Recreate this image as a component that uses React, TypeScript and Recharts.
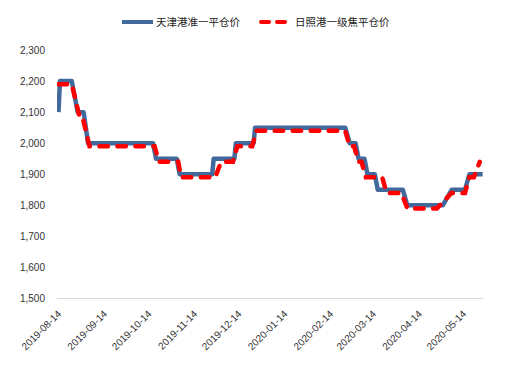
import React from "react";
import { LineChart, Line, XAxis, YAxis, Legend } from "recharts";

const tianjinName = "天津港准一平仓价";
const tianjinDates = [
  "2019-08-13", "2019-08-14", "2019-08-22", "2019-08-26", "2019-08-30", "2019-09-02",
  "2019-10-16", "2019-10-18", "2019-11-01", "2019-11-03", "2019-11-25", "2019-11-26",
  "2019-12-10", "2019-12-11", "2019-12-23", "2019-12-24", "2020-02-23", "2020-02-26",
  "2020-03-01", "2020-03-03", "2020-03-07", "2020-03-09", "2020-03-14", "2020-03-16",
  "2020-04-02", "2020-04-05", "2020-04-29", "2020-05-05", "2020-05-14", "2020-05-17",
  "2020-05-26",
];
const tianjinValues = [
  2100, 2200, 2200, 2100, 2100, 2000,
  2000, 1950, 1950, 1900, 1900, 1950,
  1950, 2000, 2000, 2050, 2050, 2000,
  2000, 1950, 1950, 1900, 1900, 1850,
  1850, 1800, 1800, 1850, 1850, 1900,
  1900,
];

const rizhaoName = "日照港一级焦平仓价";
const rizhaoDates = [
  "2019-08-13", "2019-08-22", "2019-08-27", "2019-08-29", "2019-09-03", "2019-10-17",
  "2019-10-20", "2019-11-02", "2019-11-04", "2019-11-27", "2019-12-01", "2019-12-09",
  "2019-12-12", "2019-12-22", "2019-12-25", "2020-02-23", "2020-02-26", "2020-02-29",
  "2020-03-03", "2020-03-05", "2020-03-08", "2020-03-19", "2020-03-22", "2020-04-01",
  "2020-04-05", "2020-04-25", "2020-05-05", "2020-05-14", "2020-05-17", "2020-05-20",
  "2020-05-24",
];
const rizhaoValues = [
  2190, 2190, 2090, 2090, 1990, 1990,
  1940, 1940, 1890, 1890, 1940, 1940,
  1990, 1990, 2040, 2040, 1990, 1990,
  1940, 1940, 1890, 1890, 1840, 1840,
  1790, 1790, 1840, 1840, 1890, 1890,
  1940,
];

const xTickLabels = [
  "2019-08-14", "2019-09-14", "2019-10-14", "2019-11-14", "2019-12-14",
  "2020-01-14", "2020-02-14", "2020-03-14", "2020-04-14", "2020-05-14",
];
const yTicks = [1500, 1600, 1700, 1800, 1900, 2000, 2100, 2200, 2300];

const BASE = Date.UTC(2019, 7, 14);
const dayIndex = (s: string) => {
  const [y, m, d] = s.split("-").map(Number);
  return Math.round((Date.UTC(y, m - 1, d) - BASE) / 86400000);
};

const tianjinData = tianjinDates.map((d, i) => ({ x: dayIndex(d), v: tianjinValues[i] }));
const rizhaoData = rizhaoDates.map((d, i) => ({ x: dayIndex(d), v: rizhaoValues[i] }));
const xTicks = xTickLabels.map(dayIndex);
const labelByDay: Record<number, string> = {};
xTickLabels.forEach((l) => (labelByDay[dayIndex(l)] = l));

const BLUE = "#41699B";
const RED = "#FF0000";
const FONT = "'Liberation Sans', Arial, sans-serif";

const XTick = (props: any) => {
  const { x, y, payload } = props;
  return (
    <g transform={`translate(${x + 2},${y + 8})`}>
      <text
        textAnchor="end"
        transform="rotate(-45)"
        fontSize={10}
        fontFamily={FONT}
        fill="#333"
      >
        {labelByDay[payload.value]}
      </text>
    </g>
  );
};

const LegendContent = () => (
  <svg width={499} height={20} style={{ display: "block" }}>
    <line x1={114} y1={10} x2={145} y2={10} stroke={BLUE} strokeWidth={4} />
    <text x={148} y={14} fontSize={10.5} fontFamily="'Noto Sans CJK SC', sans-serif" fill="#222">
      {tianjinName}
    </text>
    <line
      x1={253}
      y1={10}
      x2={279}
      y2={10}
      stroke={RED}
      strokeWidth={4}
      strokeLinecap="round"
      strokeDasharray="8 8"
    />
    <text x={287} y={14} fontSize={10.5} fontFamily="'Noto Sans CJK SC', sans-serif" fill="#222">
      {rizhaoName}
    </text>
  </svg>
);

export default function App() {
  return (
    <LineChart
      width={499}
      height={363}
      margin={{ top: 42, right: 24, bottom: 12.5, left: 0 }}
    >
      <Legend
        verticalAlign="middle"
        layout="horizontal"
        align="center"
        wrapperStyle={{ top: 4, left: 0, width: 499, height: 20 }}
        content={<LegendContent />}
      />
      <XAxis
        type="number"
        dataKey="x"
        domain={[-2, 286.2]}
        ticks={xTicks}
        allowDataOverflow
        interval={0}
        height={60}
        axisLine={{ stroke: "#D9D9D9", strokeWidth: 1 }}
        tickLine={false}
        tick={<XTick />}
      />
      <YAxis
        type="number"
        domain={[1500, 2300]}
        ticks={yTicks}
        width={49}
        axisLine={false}
        tickLine={false}
        tickSize={6}
        tickMargin={6}
        tickFormatter={(v: number) => v.toLocaleString("en-US")}
        tick={{ fontSize: 10, fontFamily: FONT, fill: "#333" }}
      />
      <Line
        data={tianjinData}
        dataKey="v"
        name={tianjinName}
        type="linear"
        stroke={BLUE}
        strokeWidth={4.5}
        dot={false}
        activeDot={false}
        strokeLinejoin="round"
        isAnimationActive={false}
      />
      <Line
        data={rizhaoData}
        dataKey="v"
        name={rizhaoName}
        type="linear"
        stroke={RED}
        strokeWidth={4.5}
        strokeDasharray="8.5 9.5"
        strokeLinecap="round"
        dot={false}
        activeDot={false}
        isAnimationActive={false}
      />
    </LineChart>
  );
}
